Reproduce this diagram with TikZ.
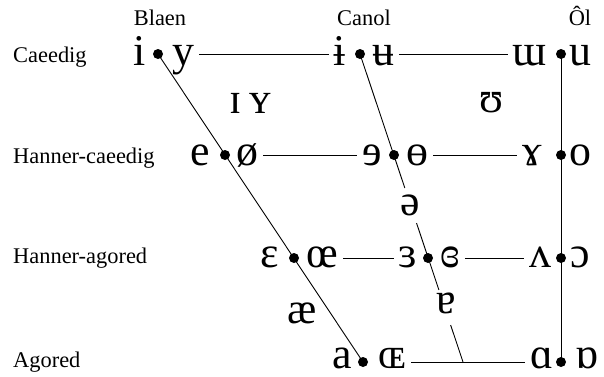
\documentclass[tikz,border=0pt]{standalone}
\usepackage{fontspec}
\setmainfont{Liberation Serif}
\usetikzlibrary{calc}
\begin{document}
\begin{tikzpicture}[x=1bp,y=-1bp,
  lbl/.style={font=\fontsize{22.5}{24}\selectfont, inner sep=0},
  vw/.style={font=\fontsize{44}{48}\selectfont, inner xsep=5bp, inner ysep=0, anchor=base},
  pt/.style={circle, fill=black, inner sep=0, minimum size=10bp},
  ln/.style={line width=0.9bp}]
\useasboundingbox (0,0) rectangle (604,376);
% column labels
\node[lbl, anchor=base] (hBlaen) at (160,25) {Blaen};
\node[lbl, anchor=base] (hCanol) at (364,25) {Canol};
\node[lbl, anchor=base] (hOl) at (580,25) {Ôl};
% row labels
\node[lbl, anchor=base west] (rC) at (13,62) {Caeedig};
\node[lbl, anchor=base west] (rHC) at (13,163) {Hanner-caeedig};
\node[lbl, anchor=base west] (rHA) at (13,263) {Hanner-agored};
\node[lbl, anchor=base west] (rA) at (13,367) {Agored};
% dots
\node[pt] (d11) at (158,54) {};
\node[pt] (d12) at (360,54) {};
\node[pt] (d13) at (561,54) {};
\node[pt] (d21) at (225,155) {};
\node[pt] (d22) at (394,155) {};
\node[pt] (d23) at (561,155) {};
\node[pt] (d31) at (294,258) {};
\node[pt] (d32) at (428,258) {};
\node[pt] (d33) at (561,258) {};
\node[pt] (d41) at (363,362) {};
\node[pt] (d43) at (561,362) {};
\coordinate (cE) at (463,362);
% row lines
\coordinate (r1) at (0,54);
\coordinate (r2) at (0,155);
\coordinate (r3) at (0,258);
\coordinate (r4) at (0,362);
% vowels close
\node[vw] (vi) at (140,65) {i};
\node[vw] (vy) at (183,65) {y};
\node[vw] (vib) at (340,65) {ɨ};
\node[vw] (vub) at (383,65) {ʉ};
\node[vw] (vmu) at (530,65) {ɯ};
\node[vw] (vu) at (580,65) {u};
% near-close
\node[vw] (vI) at (236,113) {ɪ};
\node[vw] (vY) at (260,113) {ʏ};
\node[vw] (vU) at (492,112) {ʊ};
% close-mid
\node[vw] (ve) at (200,165) {e};
\node[vw] (vo/) at (247,165) {ø};
\node[vw] (vrev) at (372,165) {ɘ};
\node[vw] (vbo) at (417,165) {ɵ};
\node[vw] (vram) at (532,165) {ɤ};
\node[vw] (vo) at (580,165) {o};
% mid
\node[vw] (vschwa) at (410,215) {ə};
% open-mid
\node[vw] (veps) at (270,267) {ɛ};
\node[vw] (voe) at (322,267) {œ};
\node[vw] (vrepsi) at (408,267) {ɜ};
\node[vw] (vcrepsi) at (450,267) {ɞ};
\node[vw] (vwedge) at (540,267) {ʌ};
\node[vw] (vopeno) at (580,267) {ɔ};
% near-open
\node[vw] (vae) at (302,323) {æ};
\node[vw] (vturna) at (446,313) {ɐ};
% open
\node[vw] (va) at (342,368) {a};
\node[vw] (vOE) at (392,368) {ɶ};
\node[vw] (valpha) at (542,368) {ɑ};
\node[vw] (vturnalpha) at (587,368) {ɒ};
% front line
\draw[ln] (d11.center) -- (d41.center);
% back line
\draw[ln] (d13.center) -- (d43.center);
% central line with gaps
\coordinate (g1) at ($(d12.center)!0.435!(cE)$);
\coordinate (g2) at ($(d12.center)!0.549!(cE)$);
\coordinate (g3) at ($(d12.center)!0.766!(cE)$);
\coordinate (g4) at ($(d12.center)!0.880!(cE)$);
\draw[ln] (d12.center) -- (g1);
\draw[ln] (g2) -- (g3);
\draw[ln] (g4) -- (cE);
% horizontal lines
\draw[ln] (vy.east |- r1) -- (vib.west |- r1);
\draw[ln] (vub.east |- r1) -- (vmu.west |- r1);
\draw[ln] (vo/.east |- r2) -- (vrev.west |- r2);
\draw[ln] (vbo.east |- r2) -- (vram.west |- r2);
\draw[ln] (voe.east |- r3) -- (vrepsi.west |- r3);
\draw[ln] (vcrepsi.east |- r3) -- (vwedge.west |- r3);
\draw[ln] (vOE.east |- r4) -- (valpha.west |- r4);
\end{tikzpicture}
\end{document}
